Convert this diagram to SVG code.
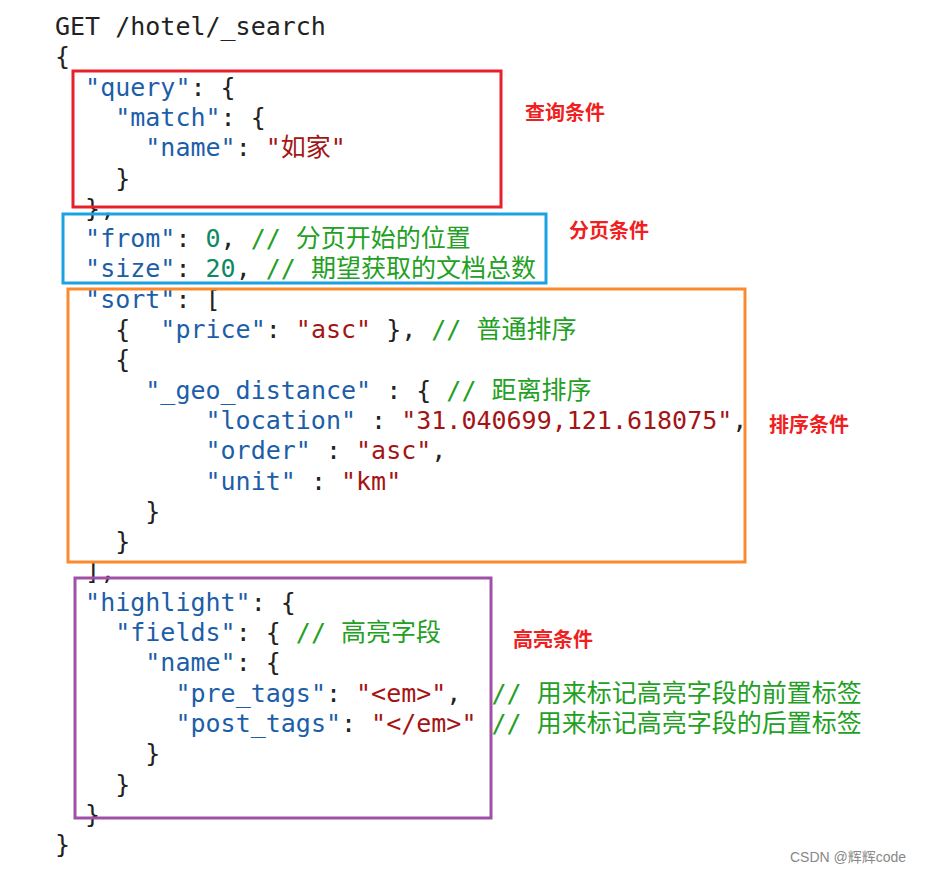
<svg xmlns="http://www.w3.org/2000/svg" width="931" height="873" viewBox="0 0 931 873">
<style>
text{font-family:"DejaVu Sans Mono","Noto Sans CJK SC",monospace;font-size:25px;fill:#222;white-space:pre}
.k{fill:#1c5ea8}.s{fill:#a31515}.n{fill:#0e8a60}.c{fill:#23a023}
.lb{font-family:"Noto Sans CJK SC",sans-serif;font-size:20px;font-weight:bold;fill:#f02020}
.box{fill:none;stroke-width:3}
</style>
<rect width="931" height="873" fill="#fff"/>
<g id="code" xml:space="preserve">
<text x="55" y="35">GET /hotel/_search</text>
<text x="55" y="65">{</text>
<text x="55" y="96">  <tspan class="k">"query"</tspan>: {</text>
<text x="55" y="126">    <tspan class="k">"match"</tspan>: {</text>
<text x="55" y="156">      <tspan class="k">"name"</tspan>: <tspan class="s">"如家"</tspan></text>
<text x="55" y="187">    }</text>
<text x="55" y="217">  },</text>
<text x="55" y="247">  <tspan class="k">"from"</tspan>: <tspan class="n">0</tspan>, <tspan class="c">// 分页开始的位置</tspan></text>
<text x="55" y="277">  <tspan class="k">"size"</tspan>: <tspan class="n">20</tspan>, <tspan class="c">// 期望获取的文档总数</tspan></text>
<text x="55" y="308">  <tspan class="k">"sort"</tspan>: [</text>
<text x="55" y="338">    {  <tspan class="k">"price"</tspan>: <tspan class="s">"asc"</tspan> }, <tspan class="c">// 普通排序</tspan></text>
<text x="55" y="368">    {</text>
<text x="55" y="399">      <tspan class="k">"_geo_distance"</tspan> : { <tspan class="c">// 距离排序</tspan></text>
<text x="55" y="429">          <tspan class="k">"location"</tspan> : <tspan class="s">"31.040699,121.618075"</tspan>,</text>
<text x="55" y="459">          <tspan class="k">"order"</tspan> : <tspan class="s">"asc"</tspan>,</text>
<text x="55" y="490">          <tspan class="k">"unit"</tspan> : <tspan class="s">"km"</tspan></text>
<text x="55" y="520">      }</text>
<text x="55" y="550">    }</text>
<text x="55" y="580">  ],</text>
<text x="55" y="611">  <tspan class="k">"highlight"</tspan>: {</text>
<text x="55" y="641">    <tspan class="k">"fields"</tspan>: { <tspan class="c">// 高亮字段</tspan></text>
<text x="55" y="671">      <tspan class="k">"name"</tspan>: {</text>
<text x="55" y="702">        <tspan class="k">"pre_tags"</tspan>: <tspan class="s">"&lt;em&gt;"</tspan>,  <tspan class="c">// 用来标记高亮字段的前置标签</tspan></text>
<text x="55" y="732">        <tspan class="k">"post_tags"</tspan>: <tspan class="s">"&lt;/em&gt;"</tspan> <tspan class="c">// 用来标记高亮字段的后置标签</tspan></text>
<text x="55" y="762">      }</text>
<text x="55" y="793">    }</text>
<text x="55" y="823">  }</text>
<text x="55" y="853">}</text>
</g>
<g id="query"><rect class="box" stroke="#e8202a" x="73" y="71" width="428" height="136"/><text class="lb" x="525" y="120">查询条件</text></g>
<g id="paging"><rect class="box" stroke="#1aa3e0" x="63" y="214" width="483" height="69"/><text class="lb" x="569" y="238">分页条件</text></g>
<g id="sort"><rect class="box" stroke="#fb8a2e" x="68" y="289" width="677" height="273"/><text class="lb" x="769" y="432">排序条件</text></g>
<g id="highlight"><rect class="box" stroke="#a050a8" x="75" y="578" width="416" height="240"/><text class="lb" x="513" y="647">高亮条件</text></g>
<text x="790" y="862" style="font-family:'Liberation Sans','Noto Sans CJK SC',sans-serif;font-size:14px;fill:#888">CSDN @辉辉code</text>
</svg>
